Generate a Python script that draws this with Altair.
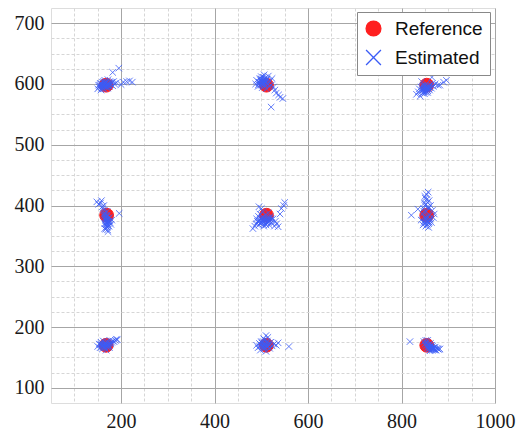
import altair as alt
import pandas as pd

# Reference positions (3 x 3 grid)
ref_x = [168, 511, 854, 169, 511, 854, 168, 511, 854]
ref_y = [598, 598, 598, 384, 384, 384, 170, 170, 170]

# Estimated positions, one list pair per cluster
est_a_x = [150, 153, 155, 157, 158, 160, 160, 162, 163, 165, 165, 167, 168, 170, 171, 172, 174, 175, 176, 178, 180, 182, 184, 186, 190, 200, 205, 212, 218, 224, 182, 195,
           152, 156, 159, 161, 164, 166, 169, 171, 173, 158, 162, 166, 170, 155, 163]
est_a_y = [592, 595, 597, 590, 600, 594, 603, 598, 592, 600, 606, 596, 603, 598, 593, 607, 601, 596, 604, 599, 603, 597, 604, 600, 602, 599, 603, 604, 605, 603, 619, 626,
           598, 601, 596, 599, 602, 595, 600, 597, 599, 593, 597, 601, 595, 599, 604]

est_b_x = [488, 490, 493, 495, 497, 498, 500, 501, 502, 504, 505, 506, 507, 508, 510, 511, 512, 514, 515, 517, 519, 521, 523, 526, 529, 532, 537, 540, 546, 521,
           496, 499, 501, 503, 505, 507, 509, 500, 504, 508, 498, 502, 506, 494, 510]
est_b_y = [600, 606, 596, 603, 609, 598, 612, 604, 594, 607, 600, 615, 597, 610, 603, 592, 608, 600, 613, 596, 605, 598, 609, 595, 590, 585, 582, 578, 576, 562,
           602, 605, 600, 603, 606, 601, 604, 608, 611, 599, 607, 598, 604, 599, 607]

est_c_x = [832, 836, 838, 840, 842, 844, 845, 846, 848, 849, 850, 852, 853, 855, 856, 858, 860, 862, 864, 866, 868, 872, 878, 882, 890, 896, 865, 843,
           846, 849, 851, 853, 855, 857, 848, 852, 856, 850, 854, 844, 858, 847, 860]
est_c_y = [583, 587, 592, 580, 595, 589, 585, 598, 591, 584, 594, 588, 600, 592, 586, 596, 590, 598, 593, 601, 596, 600, 598, 598, 603, 606, 611, 604,
           590, 593, 590, 594, 590, 593, 587, 586, 589, 597, 596, 591, 592, 594, 594]

est_d_x = [148, 152, 156, 158, 160, 161, 163, 164, 165, 166, 167, 168, 168, 169, 170, 170, 171, 172, 172, 173, 174, 175, 176, 178, 180, 165, 170, 196,
           164, 166, 168, 170, 172, 165, 169, 173, 167, 171, 163, 175, 168, 170]
est_d_y = [406, 402, 404, 408, 398, 395, 400, 392, 388, 380, 376, 372, 368, 384, 364, 378, 360, 370, 357, 374, 366, 380, 372, 369, 376, 362, 390, 387,
           383, 377, 375, 371, 367, 370, 365, 378, 361, 373, 386, 375, 380, 383]

est_e_x = [482, 486, 489, 490, 492, 494, 495, 497, 498, 500, 502, 503, 505, 506, 508, 510, 512, 514, 515, 517, 519, 520, 522, 525, 528, 530, 533, 536, 540, 543, 548, 550, 500, 495,
           496, 499, 501, 503, 505, 507, 509, 511, 513, 516, 518, 498, 504, 510, 515, 493, 521]
est_e_y = [362, 366, 370, 378, 374, 382, 368, 386, 376, 372, 380, 390, 366, 376, 385, 370, 379, 374, 388, 368, 382, 376, 372, 378, 366, 374, 370, 365, 386, 395, 400, 405, 395, 398,
           375, 378, 374, 377, 373, 379, 376, 372, 377, 374, 379, 371, 369, 368, 372, 373, 378]

est_f_x = [821, 835, 842, 845, 846, 847, 848, 849, 850, 851, 852, 853, 854, 855, 856, 857, 858, 859, 860, 861, 862, 864, 866, 868, 870, 850, 858,
           849, 851, 853, 855, 857, 859, 852, 856, 854, 850, 858, 853, 855, 860, 848]
est_f_y = [384, 394, 376, 386, 368, 395, 372, 404, 380, 412, 366, 390, 418, 374, 398, 422, 370, 408, 384, 378, 400, 372, 392, 380, 386, 415, 364,
           375, 371, 377, 369, 374, 372, 402, 405, 410, 400, 395, 380, 382, 376, 390]

est_g_x = [150, 153, 155, 157, 159, 160, 162, 163, 165, 166, 168, 170, 171, 173, 175, 176, 178, 180, 182, 185, 188, 190, 192,
           158, 161, 164, 167, 169, 172, 174, 160, 165, 170, 156, 177]
est_g_y = [168, 172, 166, 175, 170, 164, 177, 171, 167, 174, 162, 176, 169, 173, 166, 178, 172, 175, 177, 176, 178, 180, 179,
           172, 169, 173, 170, 173, 171, 169, 167, 166, 167, 171, 174]

est_h_x = [490, 493, 496, 498, 500, 502, 504, 505, 507, 508, 510, 511, 512, 514, 516, 518, 520, 523, 527, 532, 536, 559, 510, 505,
           499, 501, 503, 506, 509, 512, 515, 504, 508, 513, 497, 517]
est_h_y = [170, 166, 173, 162, 176, 168, 172, 164, 179, 170, 160, 174, 167, 183, 171, 165, 175, 169, 172, 170, 174, 168, 186, 181,
           171, 174, 169, 167, 172, 170, 168, 176, 165, 177, 168, 173]

est_i_x = [818, 848, 850, 852, 854, 855, 857, 858, 860, 861, 862, 864, 865, 866, 868, 870, 872, 874, 876, 878, 880, 882, 856, 852,
           858, 860, 862, 864, 866, 868, 870, 859, 863, 867, 871]
est_i_y = [176, 176, 172, 169, 174, 166, 171, 164, 168, 161, 173, 165, 170, 162, 166, 163, 167, 162, 165, 164, 163, 164, 178, 178,
           170, 167, 169, 166, 168, 165, 165, 164, 163, 164, 162]

series_names = ["Reference", "Estimated"]
x_ticks = list(range(100, 1001, 50))
y_ticks = list(range(100, 701, 25))

est_x = est_a_x + est_b_x + est_c_x + est_d_x + est_e_x + est_f_x + est_g_x + est_h_x + est_i_x
est_y = est_a_y + est_b_y + est_c_y + est_d_y + est_e_y + est_f_y + est_g_y + est_h_y + est_i_y

df = pd.DataFrame(
    {"x": ref_x + est_x, "y": ref_y + est_y,
     "type": ["Reference"] * len(ref_x) + ["Estimated"] * len(est_x)}
)

SERIF = "'Liberation Serif', 'Times New Roman', 'DejaVu Serif', serif"

grid_common = dict(ticks=False, domain=False, title=None, labelFont=SERIF,
                   labelFontSize=20, labelColor="#1a1a1a", gridWidth=1)

xaxis = alt.Axis(
    values=x_ticks, format="d",
    labelExpr="datum.value % 200 == 0 ? datum.label : ''",
    labelPadding=8, labelFlush=False,
    gridColor={"condition": {"test": "datum.value % 200 != 0", "value": "#d6d6d6"}, "value": "#a6a6a6"},
    gridDash={"condition": {"test": "datum.value % 200 != 0", "value": [3, 2]}, "value": []},
    **grid_common,
)
yaxis = alt.Axis(
    values=y_ticks, format="d",
    labelExpr="datum.value % 100 == 0 ? datum.label : ''",
    labelPadding=7,
    gridColor={"condition": {"test": "datum.value % 100 != 0", "value": "#d6d6d6"}, "value": "#a6a6a6"},
    gridDash={"condition": {"test": "datum.value % 100 != 0", "value": [3, 2]}, "value": []},
    **grid_common,
)

xs = alt.Scale(domain=[50, 1000], nice=False, zero=False)
ys = alt.Scale(domain=[75, 725], nice=False, zero=False)

legend = alt.Legend(
    orient="none", legendX=306, legendY=4, title=None,
    labelFont="Liberation Sans", labelFontSize=19, labelColor="#111",
    symbolSize=220, symbolStrokeWidth=1.3, strokeColor="#888",
    fillColor="white", padding=7, rowPadding=8, labelOffset=12,
)

enc = dict(
    x=alt.X("x:Q", scale=xs, axis=xaxis),
    y=alt.Y("y:Q", scale=ys, axis=yaxis),
    color=alt.Color("type:N", scale=alt.Scale(domain=series_names, range=["#ff1f1f", "#3b5cf6"]), legend=legend),
    fill=alt.Fill("type:N", scale=alt.Scale(domain=series_names, range=["#ff1f1f", "transparent"]), legend=legend),
    shape=alt.Shape("type:N", scale=alt.Scale(domain=series_names, range=["circle", "M-1,-1L1,1M1,-1L-1,1"]), legend=legend),
)

base = alt.Chart(df)
ref_layer = base.transform_filter("datum.type == 'Reference'").mark_point(
    size=190, opacity=1, strokeWidth=1).encode(**enc)
est_layer = base.transform_filter("datum.type == 'Estimated'").mark_point(
    size=42, opacity=1, strokeWidth=0.8).encode(**enc)

chart = (
    alt.layer(ref_layer, est_layer)
    .properties(width=444, height=395, autosize=alt.AutoSizeParams(type="none"),
                padding={"left": 51, "top": 8, "right": 35, "bottom": 27})
    .configure_view(stroke="#222", strokeWidth=1.6)
    .configure_axis(labelFont=SERIF)
    .configure(background="white")
)

chart.save("out.html", embed_options={"renderer": "svg", "actions": False})
